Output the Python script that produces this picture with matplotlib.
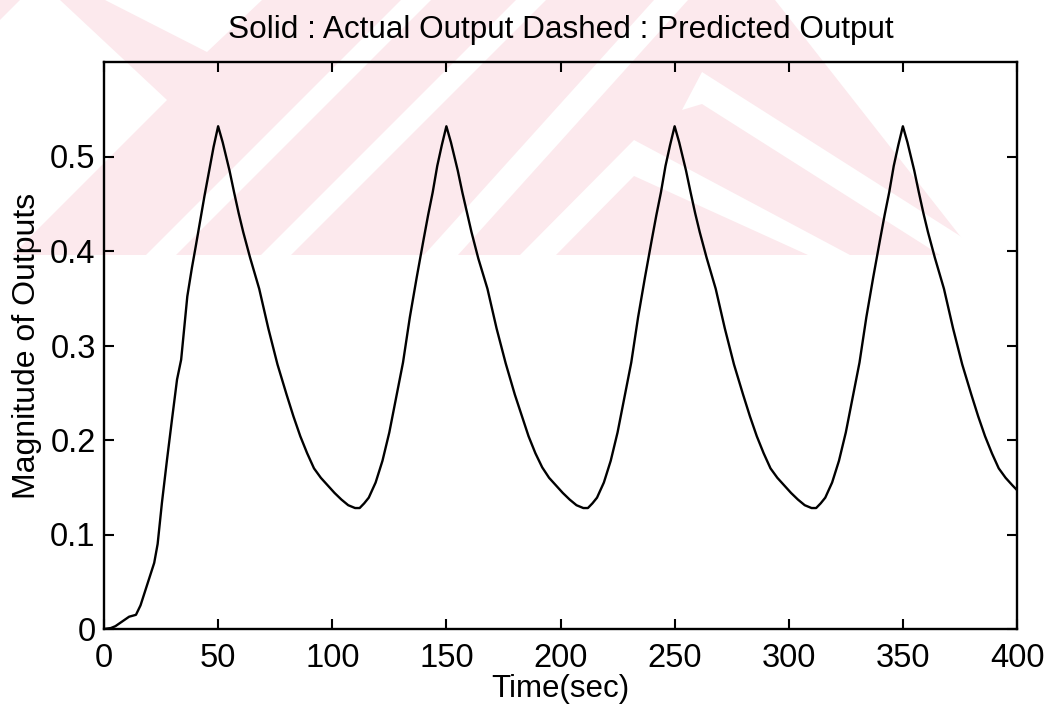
import matplotlib
matplotlib.use("Agg")
import matplotlib.pyplot as plt
from matplotlib.patches import Polygon, Rectangle

# ---- data ----
time_s = [0, 3, 5, 8, 11, 14, 16, 18, 20, 22, 23.5, 25.4, 27.6, 29.8, 32, 33.8, 36.5, 38.5, 40.2, 41.7, 44, 46.1, 48, 50,
          52, 54, 55, 57, 59, 61, 64, 68, 72, 76, 80, 83, 86, 89, 92, 95, 98, 101, 104, 107, 110,
          112, 114, 116, 119, 122, 125, 128, 131, 134, 137, 140, 142, 144, 146, 148, 150,
          152, 154, 155, 157, 159, 161, 164, 168, 172, 176, 180, 183, 186, 189, 192, 195, 198, 201, 204, 207, 210,
          212, 214, 216, 219, 222, 225, 228, 231, 234, 237, 240, 242, 244, 246, 248, 250,
          252, 254, 255, 257, 259, 261, 264, 268, 272, 276, 280, 283, 286, 289, 292, 295, 298, 301, 304, 307, 310,
          312, 314, 316, 319, 322, 325, 328, 331, 334, 337, 340, 342, 344, 346, 348, 350,
          352, 354, 355, 357, 359, 361, 364, 368, 372, 376, 380, 383, 386, 389, 392, 395, 398, 400]
actual_output = [0.000, 0.001, 0.003, 0.008, 0.013, 0.015, 0.025, 0.040, 0.055, 0.070, 0.090, 0.134, 0.179, 0.222, 0.264, 0.285, 0.352, 0.382, 0.405, 0.426, 0.458, 0.485, 0.510, 0.532,
                 0.515, 0.495, 0.485, 0.462, 0.440, 0.420, 0.393, 0.360, 0.318, 0.280, 0.248, 0.225, 0.204, 0.186, 0.170, 0.160, 0.152, 0.144, 0.137, 0.131, 0.128,
                 0.128, 0.133, 0.139, 0.155, 0.178, 0.208, 0.245, 0.282, 0.330, 0.372, 0.412, 0.438, 0.462, 0.490, 0.512, 0.532,
                 0.515, 0.495, 0.485, 0.462, 0.441, 0.420, 0.392, 0.360, 0.318, 0.281, 0.248, 0.226, 0.204, 0.186, 0.171, 0.160, 0.152, 0.144, 0.137, 0.131, 0.128,
                 0.128, 0.133, 0.139, 0.155, 0.178, 0.208, 0.245, 0.282, 0.330, 0.372, 0.412, 0.438, 0.462, 0.490, 0.512, 0.532,
                 0.515, 0.495, 0.485, 0.462, 0.440, 0.420, 0.393, 0.360, 0.318, 0.280, 0.248, 0.225, 0.204, 0.186, 0.170, 0.160, 0.152, 0.144, 0.137, 0.131, 0.128,
                 0.128, 0.133, 0.139, 0.155, 0.178, 0.208, 0.245, 0.282, 0.330, 0.372, 0.412, 0.438, 0.462, 0.490, 0.512, 0.532,
                 0.515, 0.495, 0.485, 0.462, 0.440, 0.420, 0.393, 0.360, 0.318, 0.280, 0.248, 0.225, 0.204, 0.186, 0.170, 0.160, 0.152, 0.147]

x_ticks = [0, 50, 100, 150, 200, 250, 300, 350, 400]
y_ticks = [0, 0.1, 0.2, 0.3, 0.4, 0.5]
y_tick_labels = ["0", "0.1", "0.2", "0.3", "0.4", "0.5"]
title_text = "Solid : Actual Output Dashed : Predicted Output"
x_label = "Time(sec)"
y_label = "Magnitude of Outputs"

W, H = 1054, 709
plt.rcParams['font.family'] = ['Liberation Sans', 'DejaVu Sans']
fig = plt.figure(figsize=(W / 100, H / 100), dpi=100)

# ---- faint pink watermark in a background layer (pixel coords, y downward) ----
bg = fig.add_axes([0, 0, 1, 1], zorder=-10)
bg.set_xlim(0, W)
bg.set_ylim(H, 0)
bg.axis("off")
pink = "#fce9ed"
clip = Rectangle((0, 0), W, 255, transform=bg.transData)
shapes = [
    ("p", [(0, 0), (775, 0), (975, 255), (0, 255)]),
    ("w", [(0, 20), (20, 0), (60, 0), (167, 100), (12, 255), (0, 255)]),
    ("w", [(105, 0), (262, 0), (207, 52)]),
    ("w", [(146, 255), (176, 255), (431, 0), (401, 0)]),
    ("w", [(261, 255), (291, 255), (546, 0), (516, 0)]),
    ("w", [(424, 255), (458, 255), (688, 0), (654, 0)]),
    ("w", [(520, 255), (634, 140), (850, 255), (808, 255), (634, 176), (556, 255)]),
    ("w", [(682, 110), (702, 72), (990, 255), (940, 255), (702, 104)]),
]
for kind, pts in shapes:
    poly = Polygon(pts, closed=True, facecolor=pink if kind == "p" else "white",
                   edgecolor="none")
    bg.add_patch(poly)
    poly.set_clip_path(clip)

ax = fig.add_axes([104 / W, 1 - 629 / H, (1017 - 104) / W, (629 - 62) / H])
ax.patch.set_alpha(0)
ax.plot(time_s, actual_output, color="black", linewidth=1.7)
ax.set_xlim(0, 400)
ax.set_ylim(0, 0.6)
ax.set_xticks(x_ticks)
ax.set_xticklabels([str(v) for v in x_ticks])
ax.set_yticks(y_ticks)
ax.set_yticklabels(y_tick_labels)
ax.tick_params(axis="both", direction="in", length=7, width=1.5, top=True, right=True,
               labelsize=23.5, colors="black")
ax.tick_params(axis="x", pad=10)
ax.tick_params(axis="y", pad=6)
for s in ax.spines.values():
    s.set_linewidth(1.7)
ax.set_xlabel(x_label, fontsize=22.5, labelpad=0)
ax.set_ylabel(y_label, fontsize=23, labelpad=6)
ax.set_title(title_text, fontsize=22.7, pad=17)

fig.savefig("out.png", dpi=100)
